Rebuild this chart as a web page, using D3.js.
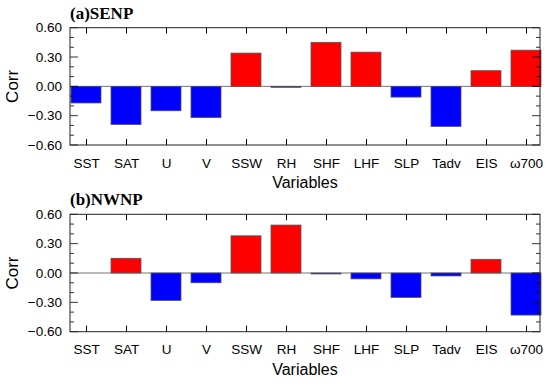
<!DOCTYPE html>
<html>
  <head>
	<meta charset="UTF-8">
    <title>Corr bars</title>
	<script type="text/javascript" src="https://cdn.jsdelivr.net/npm/d3@7/dist/d3.min.js"></script>
	<style>
		body { margin: 0; background: #fff; }
		text { font-family: "Liberation Sans", Arial, Helvetica, sans-serif; fill: #000; }
		.ttl { font-family: "Liberation Serif", "Times New Roman", serif; font-weight: bold; }
	</style>
  </head>
  <body>
    <svg width="550" height="385"></svg>
    <script>
    	var variables = ["SST","SAT","U","V","SSW","RH","SHF","LHF","SLP","Tadv","EIS","ω700"];
    	var senp = [-0.17,-0.39,-0.25,-0.32,0.34,-0.01,0.45,0.35,-0.11,-0.41,0.16,0.37];
    	var nwnp = [0.00,0.15,-0.28,-0.10,0.38,0.49,-0.01,-0.06,-0.25,-0.03,0.14,-0.43];
    	var yTicks = [-0.6,-0.3,0,0.3,0.6];
    	var yMinor = d3.range(-6,7).map(function(d){ return d/10; });

    	var svg = d3.select("svg");
    	var marge = {left:70, right:540};

    	function drawPanel(title, values, top, bottom){
    		var g = svg.append("g");
    		var x = d3.scaleLinear().domain([-0.4, 11.35]).range([marge.left, marge.right]);
    		var y = d3.scaleLinear().domain([-0.6, 0.6]).range([bottom, top]);
    		var bw = x(0.75) - x(0);

    		// zero line
    		g.append("line")
    			.attr("x1", marge.left).attr("x2", marge.right)
    			.attr("y1", y(0)).attr("y2", y(0))
    			.attr("stroke", "#777").attr("stroke-width", 1);

    		// bars
    		g.selectAll(".bar")
    			.data(values)
    			.enter()
    			.append("rect")
    			.attr("x", function(d,i){ return x(i) - bw/2; })
    			.attr("y", function(d){ return y(Math.max(0,d)); })
    			.attr("width", bw)
    			.attr("height", function(d){ return Math.abs(y(d) - y(0)); })
    			.attr("fill", function(d){ return d >= 0 ? "#ff0000" : "#0000ff"; })
    			.attr("stroke", "#555").attr("stroke-width", 0.8);

    		// x ticks, top and bottom, inward
    		var xAxisB = d3.axisBottom(x).tickValues(d3.range(variables.length))
    			.tickFormat(function(d){ return variables[d]; }).tickSizeInner(-6).tickSizeOuter(0).tickPadding(13);
    		var gb = g.append("g").attr("transform","translate(0,"+bottom+")").call(xAxisB);
    		gb.select(".domain").remove();
    		gb.selectAll("text").attr("font-size", 13.5).style("font-family", null);
    		var gt = g.append("g").attr("transform","translate(0,"+top+")")
    			.call(d3.axisTop(x).tickValues(d3.range(variables.length)).tickFormat("").tickSizeInner(-6).tickSizeOuter(0));
    		gt.select(".domain").remove();

    		// y ticks, left and right, inward, with minor ticks
    		[["L", marge.left, 1], ["R", marge.right, -1]].forEach(function(s){
    			var ga = g.append("g");
    			ga.selectAll("line")
    				.data(yMinor)
    				.enter()
    				.append("line")
    				.attr("x1", s[1])
    				.attr("x2", function(d){
    					var major = Math.abs(Math.round(d*10) % 3) === 0;
    					return s[1] + s[2]*(major ? 8 : 4);
    				})
    				.attr("y1", function(d){ return y(d); })
    				.attr("y2", function(d){ return y(d); })
    				.attr("stroke", "#000").attr("stroke-width", 0.8);
    		});
    		g.selectAll(".ylab")
    			.data(yTicks)
    			.enter()
    			.append("text")
    			.attr("x", marge.left - 8)
    			.attr("y", function(d){ return y(d); })
    			.attr("dy", "0.35em")
    			.attr("text-anchor", "end")
    			.attr("font-size", 13.5)
    			.text(function(d){ return d3.format(".2f")(d).replace("-", "\u2212"); });

    		// frame
    		g.append("rect")
    			.attr("x", marge.left).attr("y", top)
    			.attr("width", marge.right - marge.left).attr("height", bottom - top)
    			.attr("fill", "none").attr("stroke", "#222").attr("stroke-width", 1);

    		g.append("text").attr("class","ttl")
    			.attr("x", marge.left).attr("y", top - 9)
    			.attr("font-size", 17)
    			.text(title);
    		g.append("text")
    			.attr("transform","translate(18,"+y(0)+") rotate(-90)")
    			.attr("text-anchor","middle")
    			.attr("font-size", 17)
    			.text("Corr");
    		g.append("text")
    			.attr("x", (marge.left + marge.right)/2).attr("y", bottom + 43)
    			.attr("text-anchor","middle")
    			.attr("font-size", 16)
    			.text("Variables");
    	}

    	drawPanel("(a)SENP", senp, 27.7, 145);
    	drawPanel("(b)NWNP", nwnp, 214.3, 331.7);
    </script>
  </body>
</html>
